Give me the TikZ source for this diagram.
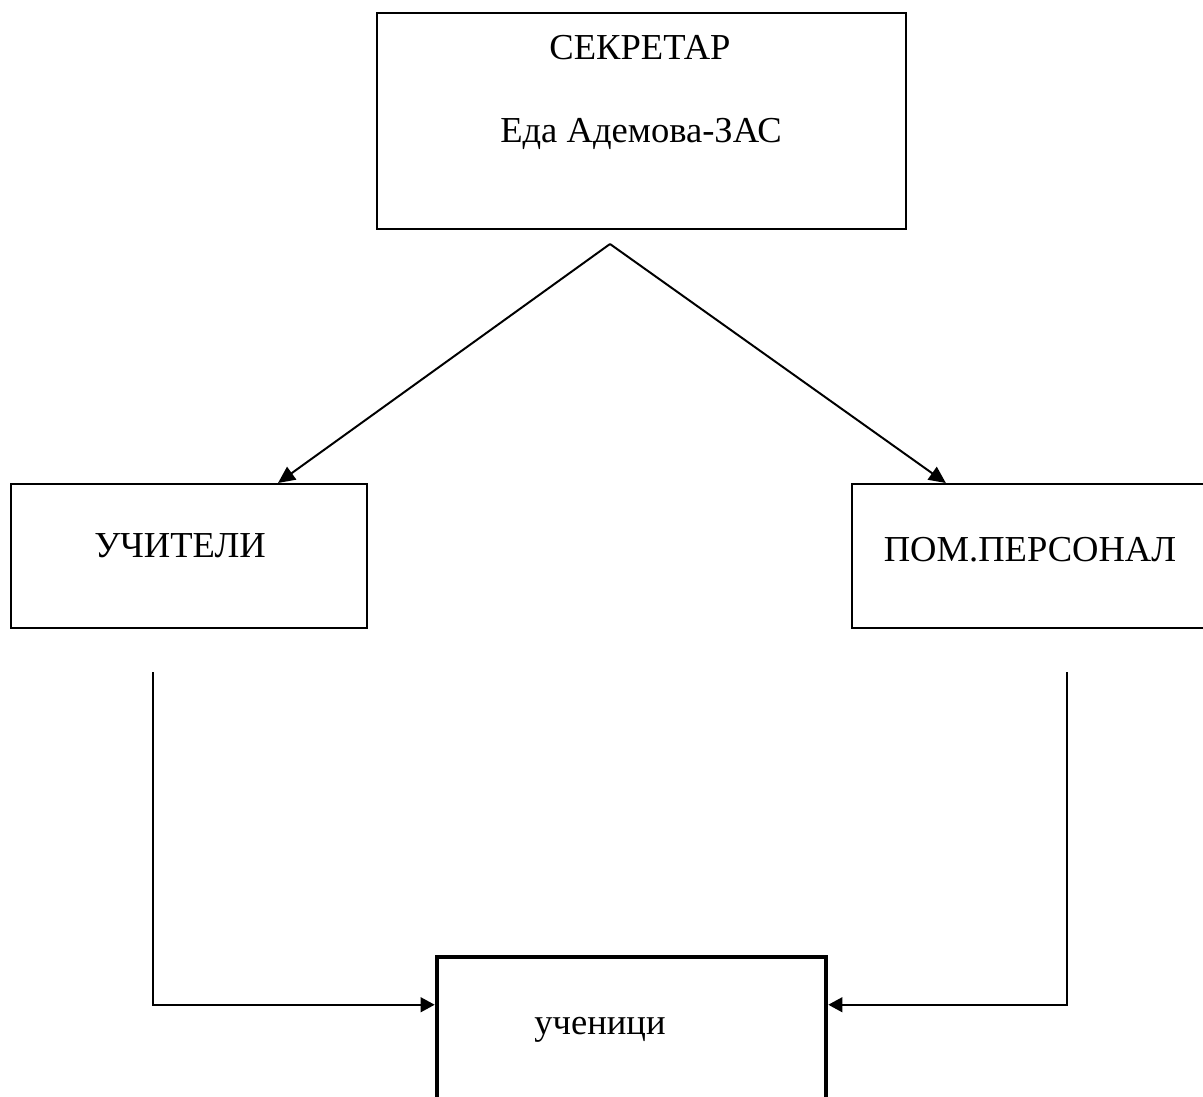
\documentclass[tikz,border=0pt]{standalone}
\usepackage{fontspec}
\setmainfont{Liberation Serif}
\usetikzlibrary{arrows.meta}

\begin{document}
\begin{tikzpicture}[x=0.025cm, y=-0.025cm,
    box/.style={draw, line width=1.4pt, inner sep=0pt},
    thickbox/.style={draw, line width=3.2pt, inner sep=0pt},
    txt/.style={font=\fontsize{26}{31}\selectfont, inner sep=0pt},
    arr/.style={line width=1.4pt, -{Triangle[length=12pt,width=11pt]}},
    sidearr/.style={line width=1.4pt, -{Triangle[length=10pt,width=10.5pt]}}]
    \useasboundingbox (0,0) rectangle (1203,1097);
    \clip (0,0) rectangle (1203,1097);

    \node[box, minimum width=13.225cm, minimum height=5.4cm] (sec) at (641.5,121) {};
    \node[txt] (sectitle) at (640,47.5) {СЕКРЕТАР};
    \node[txt] (secname) at (641,133.5) {Еда Адемова-ЗАС};

    \node[box, minimum width=8.9cm, minimum height=3.6cm] (uch) at (189,556) {};
    \node[txt] (uchtext) at (180,546) {УЧИТЕЛИ};

    \node[box, minimum width=9.075cm, minimum height=3.6cm] (pom) at (1033.5,556) {};
    \node[txt] (pomtext) at (1030,549.5) {ПОМ.ПЕРСОНАЛ};

    \node[thickbox, minimum width=9.725cm, minimum height=5cm] (stud) at (631.5,1057) {};
    \node[txt] (studtext) at (600,1030) {ученици};

    \coordinate (apex) at (610,244);
    \coordinate (uchfoot) at (153,672);
    \coordinate (pomfoot) at (1067,672);

    \draw[arr] (apex) -- ([xshift=2.225cm]uch.north);
    \draw[arr] (apex) -- ([xshift=-2.19cm]pom.north);
    \draw[sidearr] (uchfoot) |- ([yshift=-1.25cm]stud.north west);
    \draw[sidearr] (pomfoot) |- ([yshift=-1.25cm]stud.north east);
\end{tikzpicture}
\end{document}
